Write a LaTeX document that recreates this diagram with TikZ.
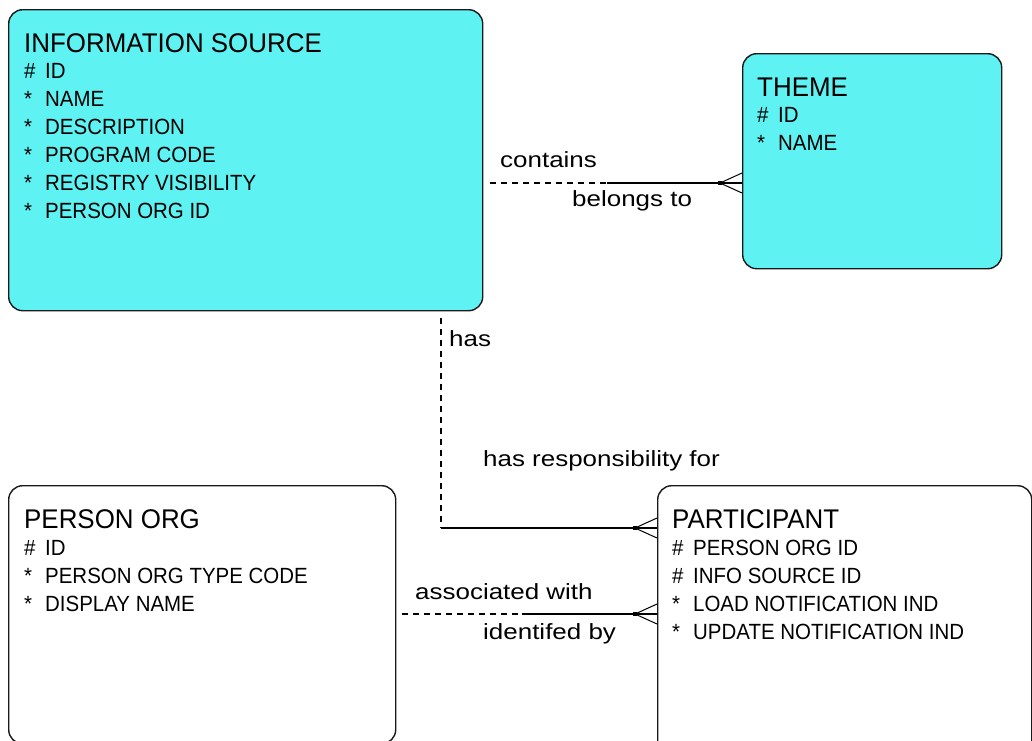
\documentclass[tikz,border=0pt]{standalone}
\usepackage{fontspec}
\setmainfont{Liberation Sans}
\newfontfamily\titlefont[FakeStretch=0.96]{Liberation Sans}
\newfontfamily\attrfont[FakeStretch=0.93]{Liberation Sans}
\newfontfamily\labelfont[FakeStretch=1.18]{Liberation Sans}
\definecolor{entfill}{RGB}{95,242,242}
\definecolor{edgecol}{RGB}{25,25,25}
\begin{document}
\begin{tikzpicture}[x=1pt,y=-1pt,
  entity/.style={draw=edgecol, line width=1.4pt, rounded corners=14pt, anchor=north west, inner sep=0pt},
  titletext/.style={anchor=base west, inner sep=0pt, font=\titlefont\fontsize{27}{30}\selectfont},
  attrtext/.style={anchor=base west, inner sep=0pt, font=\attrfont\fontsize{22}{26}\selectfont},
  rlabel/.style={anchor=base west, inner sep=0pt, font=\labelfont\fontsize{22}{26}\selectfont},
  optline/.style={line width=1.1pt, dash pattern=on 6pt off 5pt},
  manline/.style={line width=1.4pt},
  crowfoot/.pic={
    \fill (-2.2,-2.2) rectangle (2.2,2.2);
    \draw[line width=1pt] (0,0) -- (22,-10) (0,0) -- (22,10);
  }]
\useasboundingbox (0,0) rectangle (1032,740);
\fill[white] (0,0) rectangle (1032,740);
\clip (0,0) rectangle (1032,740);

% entities
\node[entity, fill=entfill, minimum width=474pt, minimum height=301pt] (info) at (8,9) {};
\node[entity, fill=entfill, minimum width=259pt, minimum height=215pt] (theme) at (742,53) {};
\node[entity, fill=white, minimum width=387pt, minimum height=258pt] (porg) at (8,485) {};
\node[entity, fill=white, minimum width=374pt, minimum height=290pt] (part) at (657,485) {};

% INFORMATION SOURCE
\node[titletext] (info-t) at (24,52) {INFORMATION SOURCE};
\foreach \s/\t [count=\i] in {\#/ID, */NAME, */DESCRIPTION, */PROGRAM CODE, */REGISTRY VISIBILITY, */PERSON ORG ID}
  \node[attrtext] (info-\i) at (24,{50+28*\i}) {\makebox[21pt][l]{\s}\t};

% THEME
\node[titletext] (theme-t) at (757,96) {THEME};
\foreach \s/\t [count=\i] in {\#/ID, */NAME}
  \node[attrtext] (theme-\i) at (757,{94+28*\i}) {\makebox[21pt][l]{\s}\t};

% PERSON ORG
\node[titletext] (porg-t) at (24,528) {PERSON ORG};
\foreach \s/\t [count=\i] in {\#/ID, */PERSON ORG TYPE CODE, */DISPLAY NAME}
  \node[attrtext] (porg-\i) at (24,{527+28*\i}) {\makebox[21pt][l]{\s}\t};

% PARTICIPANT
\node[titletext] (part-t) at (672,528) {PARTICIPANT};
\foreach \s/\t [count=\i] in {\#/PERSON ORG ID, \#/INFO SOURCE ID, */LOAD NOTIFICATION IND, */UPDATE NOTIFICATION IND}
  \node[attrtext] (part-\i) at (672,{527+28*\i}) {\makebox[21pt][l]{\s}\t};

% relationship: information source -- theme
\coordinate (c1a) at (490,183);
\coordinate (c1b) at (607,183);
\coordinate (c1d) at (720,183);
\draw[optline] (c1a) -- (c1b);
\draw[manline] (c1b) -- (c1d -| theme.west);
\pic at (c1d) {crowfoot};
\node[rlabel] (l-contains) at (500,167) {contains};
\node[rlabel] (l-belongs) at (572,206) {belongs to};

% relationship: information source -- participant
\coordinate (c2a) at (441,318);
\coordinate (c2b) at (441,528);
\coordinate (c2d) at (635,528);
\draw[optline] (c2a) -- (c2b);
\draw[manline] (c2b) -- (c2d -| part.west);
\pic at (c2d) {crowfoot};
\node[rlabel] (l-has) at (449,346) {has};
\node[rlabel] (l-resp) at (483,466) {has responsibility for};

% relationship: person org -- participant
\coordinate (c3a) at (402,614);
\coordinate (c3b) at (522,614);
\coordinate (c3d) at (635,614);
\draw[optline] (c3a) -- (c3b);
\draw[manline] (c3b) -- (c3d -| part.west);
\pic at (c3d) {crowfoot};
\node[rlabel] (l-assoc) at (415,599) {associated with};
\node[rlabel] (l-ident) at (483,639) {identifed by};
\end{tikzpicture}
\end{document}
